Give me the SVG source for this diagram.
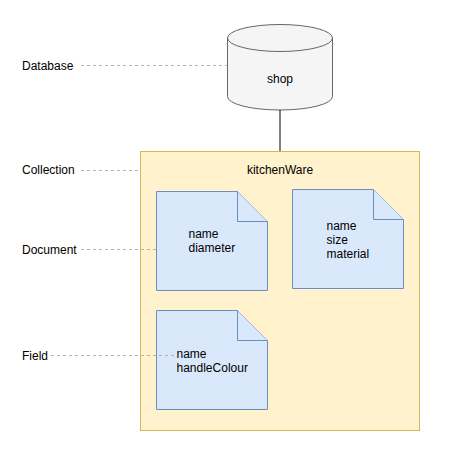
<svg xmlns="http://www.w3.org/2000/svg" width="452" height="451" viewBox="0 0 452 451">
<style>
text{font-family:"Liberation Sans",Arial,sans-serif;font-size:12px;fill:#000}
.dash{stroke:#b3b3b3;stroke-width:1;stroke-dasharray:3 3;fill:none}
.doc{fill:#dae8fc;stroke:#6c8ebf;stroke-width:1}
</style>
<rect width="452" height="451" fill="#fff"/>
<g id="label-database"><text x="22" y="70">Database</text></g>
<g id="label-collection"><text x="22" y="174">Collection</text></g>
<g id="label-document"><text x="22" y="254">Document</text></g>
<g id="label-field"><text x="22" y="360">Field</text></g>
<g id="shop">
<path d="M227.5,38 A52.5,13.5 0 0 1 332.5,38 L332.5,96.5 A52.5,13.5 0 0 1 227.5,96.5 Z" fill="#f5f5f5" stroke="#666" stroke-width="1"/>
<path d="M227.5,38 A52.5,13.5 0 0 0 332.5,38" fill="none" stroke="#666" stroke-width="1"/>
<text x="280" y="83" text-anchor="middle">shop</text>
</g>
<g id="kitchenWare">
<rect x="140.5" y="151.5" width="279" height="279" fill="#fff2cc" stroke="#d6b656" stroke-width="1"/>
<text x="280" y="174" text-anchor="middle">kitchenWare</text>
</g>
<g id="doc1">
<path class="doc" d="M156.5,191.5 H237.5 L267.5,221.5 V290.5 H156.5 Z"/>
<path class="doc" d="M237.5,191.5 V221.5 H267.5"/>
<text x="188.5" y="238">name</text>
<text x="188.5" y="252">diameter</text>
</g>
<g id="doc2">
<path class="doc" d="M292.5,189.5 H373.5 L403.5,219.5 V288.5 H292.5 Z"/>
<path class="doc" d="M373.5,189.5 V219.5 H403.5"/>
<text x="326.5" y="230">name</text>
<text x="326.5" y="244">size</text>
<text x="326.5" y="258">material</text>
</g>
<g id="doc3">
<path class="doc" d="M156.5,310.5 H237.5 L267.5,340.5 V409.5 H156.5 Z"/>
<path class="doc" d="M237.5,310.5 V340.5 H267.5"/>
<text x="176.5" y="358">name</text>
<text x="176.5" y="372">handleColour</text>
</g>
<g id="connectors">
<line x1="280" y1="110" x2="280" y2="151" stroke="#000" stroke-width="1"/>
<line class="dash" x1="81" y1="65.5" x2="227" y2="65.5"/>
<line class="dash" x1="81" y1="170.5" x2="140" y2="170.5"/>
<line class="dash" x1="81" y1="249.5" x2="156" y2="249.5"/>
<line class="dash" x1="51" y1="355.5" x2="176" y2="355.5"/>
</g>
</svg>
